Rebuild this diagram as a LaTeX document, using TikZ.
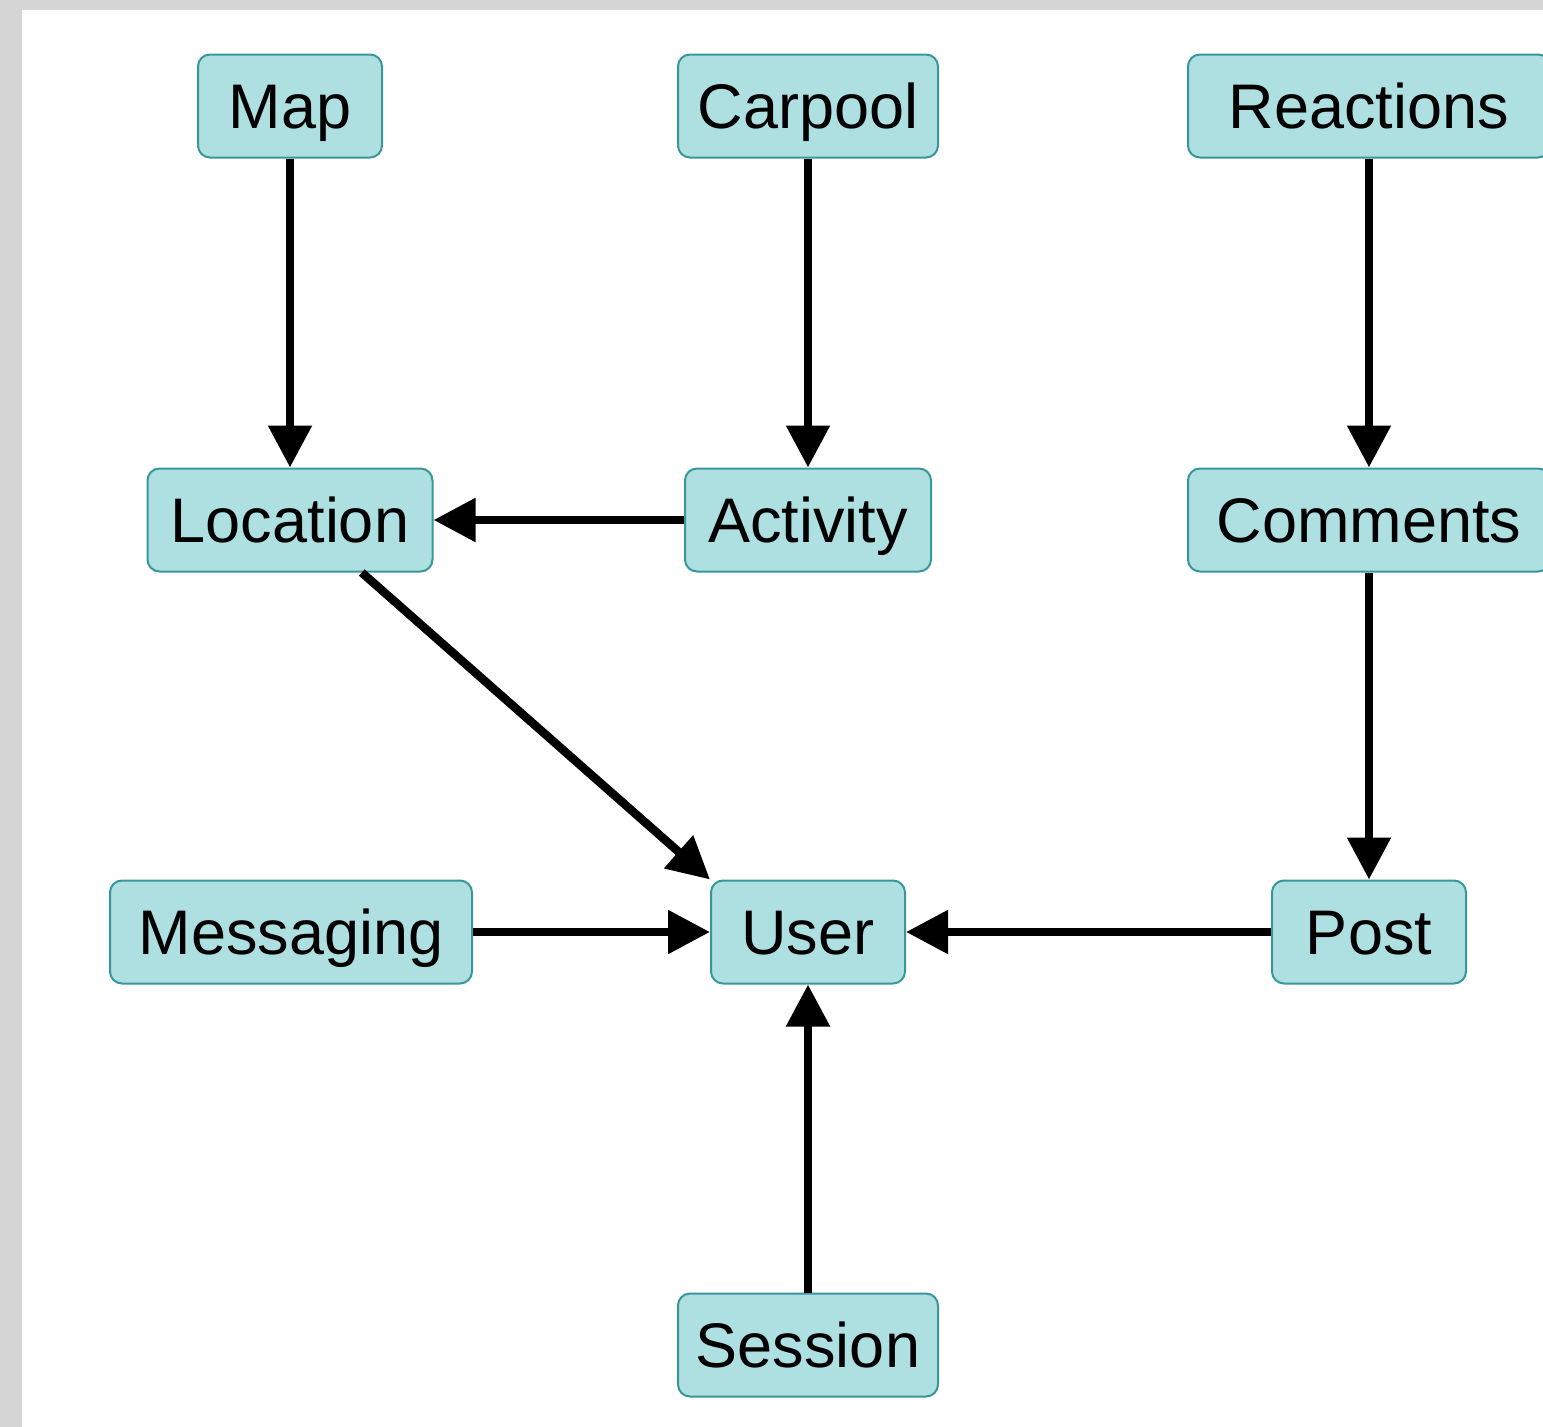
\documentclass[tikz,border=0pt]{standalone}
\usepackage{fontspec}
\setmainfont{Liberation Sans}
\usetikzlibrary{arrows.meta,calc}
\definecolor{boxfill}{HTML}{AEE0E2}
\definecolor{boxline}{HTML}{3A9799}
\definecolor{pagegrey}{HTML}{D6D6D6}
\tikzset{
  box/.style={draw=boxline, fill=boxfill, line width=2pt, rounded corners=12pt,
    minimum height=103pt, inner sep=0pt, text height=46pt, text depth=2pt,
    font=\fontsize{63}{70}\selectfont, text=black},
  link/.style={line width=8.5pt, -{Triangle[length=42pt,width=42pt]}}
}
\begin{document}
\begin{tikzpicture}[x=1pt,y=-1pt]
\fill[pagegrey] (0,0) rectangle (1543,1427);
\fill[white] (22,10) rectangle (1543,1427);
\useasboundingbox (0,0) rectangle (1543,1427);
\node[box, minimum width=184pt] (map) at (290,106) {Map};
\node[box, minimum width=260pt] (carpool) at (808,106) {Carpool};
\node[box, minimum width=362pt] (reactions) at (1369,106) {Reactions};
\node[box, minimum width=285pt] (location) at (290,520) {Location};
\node[box, minimum width=246pt] (activity) at (808,520) {Activity};
\node[box, minimum width=362pt] (comments) at (1369,520) {Comments};
\node[box, minimum width=362pt] (messaging) at (291,932) {Messaging};
\node[box, minimum width=194pt] (user) at (808,932) {User};
\node[box, minimum width=194pt] (post) at (1369,932) {Post};
\node[box, minimum width=260pt] (session) at (808,1345) {Session};
\draw[link] (map) -- (location);
\draw[link] (carpool) -- (activity);
\draw[link] (reactions) -- (comments);
\draw[link] (activity) -- (location);
\draw[link] ($(location.south west)!0.75!(location.south east)$) -- (user.north west);
\draw[link] (messaging) -- (user);
\draw[link] (post) -- (user);
\draw[link] (comments) -- (post);
\draw[link] (session) -- (user);
\end{tikzpicture}
\end{document}
